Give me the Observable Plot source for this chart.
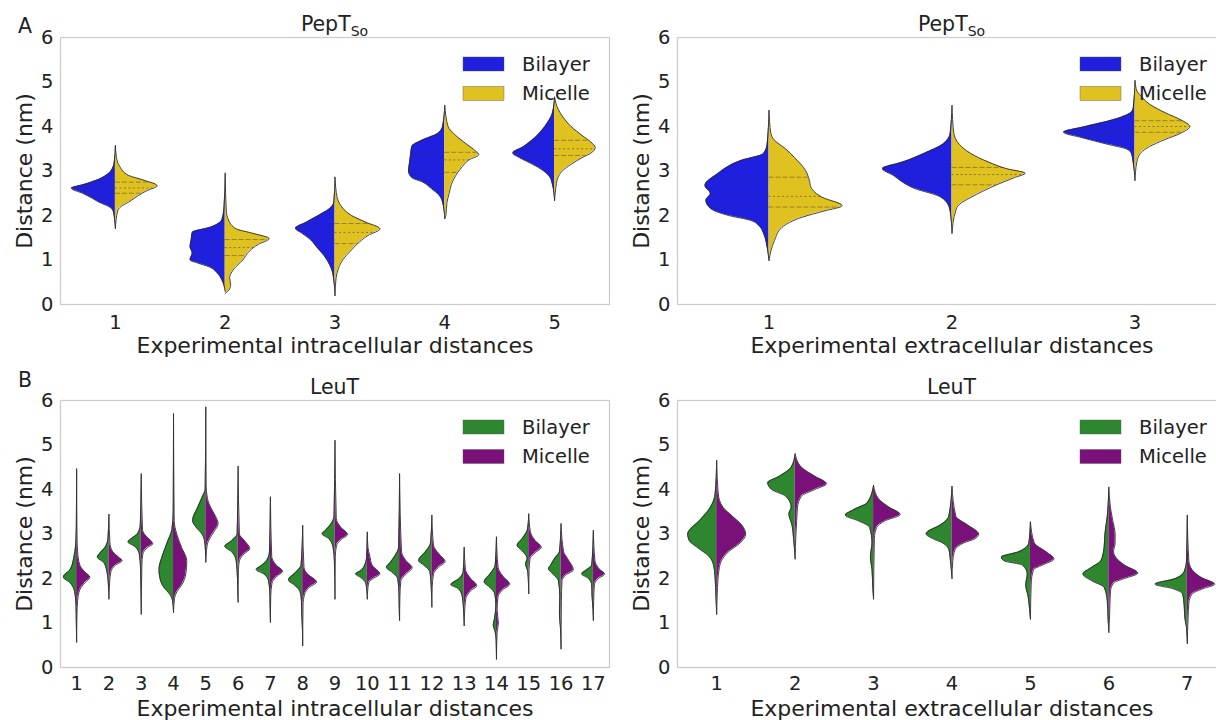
<!DOCTYPE html>
<html><head><meta charset="utf-8">
<script src="https://cdn.jsdelivr.net/npm/d3@7"></script>
<script src="https://cdn.jsdelivr.net/npm/@observablehq/plot@0.6"></script>
<style>
html,body{margin:0;padding:0;background:#fff;}
#fig{position:relative;width:1216px;height:720px;overflow:hidden;background:#fff;font-family:"DejaVu Sans",sans-serif;}
.panel{position:absolute;}
</style></head><body><div id="fig"></div>
<script>
// ---------- data (profiles: [distance nm, half-width in category units], top to bottom) ----------
const yTicks = [0, 1, 2, 3, 4, 5, 6];
const seriesNames = ["Bilayer", "Micelle"];

const pepIntraCats = [1, 2, 3, 4, 5];
const pepIntraBilayer = [
  [[3.57,0],[3.2,0.01],[3.0,0.04],[2.85,0.12],[2.7,0.28],[2.61,0.40],[2.5,0.30],[2.4,0.22],[2.3,0.15],[2.2,0.06],[2.1,0.02],[1.71,0]],
  [[2.95,0],[2.2,0.01],[1.9,0.03],[1.75,0.12],[1.62,0.30],[1.45,0.31],[1.3,0.32],[1.15,0.30],[1.0,0.32],[0.93,0.25],[0.85,0.15],[0.7,0.07],[0.55,0.03],[0.3,0]],
  [[2.86,0],[2.3,0.01],[2.15,0.05],[2.0,0.15],[1.85,0.26],[1.71,0.36],[1.6,0.30],[1.45,0.22],[1.3,0.17],[1.1,0.10],[0.9,0.05],[0.7,0.02],[0.2,0]],
  [[4.47,0],[4.0,0.02],[3.85,0.06],[3.7,0.2],[3.55,0.3],[3.4,0.31],[3.2,0.32],[3.0,0.33],[2.85,0.30],[2.75,0.2],[2.6,0.12],[2.45,0.05],[2.3,0.02],[1.93,0]],
  [[4.66,0],[4.3,0.02],[4.1,0.06],[3.9,0.12],[3.7,0.2],[3.55,0.28],[3.4,0.38],[3.3,0.32],[3.15,0.2],[3.0,0.1],[2.85,0.04],[2.7,0.02],[2.34,0]]
];
const pepIntraMicelle = [
  [[3.57,0],[3.3,0.01],[3.1,0.04],[2.9,0.12],[2.8,0.25],[2.67,0.38],[2.55,0.28],[2.4,0.18],[2.3,0.12],[2.2,0.05],[2.1,0.02],[1.71,0]],
  [[2.95,0],[2.1,0.01],[1.9,0.03],[1.7,0.1],[1.6,0.25],[1.48,0.40],[1.35,0.30],[1.2,0.22],[1.0,0.16],[0.8,0.08],[0.6,0.04],[0.45,0.05],[0.35,0.04],[0.25,0]],
  [[2.86,0],[2.4,0.02],[2.2,0.06],[2.0,0.15],[1.85,0.28],[1.7,0.41],[1.55,0.30],[1.4,0.22],[1.2,0.14],[1.0,0.07],[0.8,0.03],[0.6,0.01],[0.2,0]],
  [[4.47,0],[4.0,0.03],[3.8,0.1],[3.6,0.2],[3.45,0.28],[3.37,0.31],[3.25,0.22],[3.1,0.16],[2.9,0.1],[2.7,0.06],[2.5,0.04],[2.3,0.02],[2.0,0.01],[1.93,0]],
  [[4.66,0],[4.4,0.03],[4.2,0.08],[4.0,0.15],[3.8,0.25],[3.65,0.33],[3.53,0.37],[3.4,0.33],[3.3,0.25],[3.15,0.15],[3.0,0.07],[2.85,0.03],[2.6,0.01],[2.34,0]]
];
const pepIntraBilayerQuartiles = [[2.45,2.58,2.68],[1.1,1.28,1.45],[1.45,1.65,1.8],[2.95,3.15,3.4],[3.3,3.42,3.6]];
const pepIntraMicelleQuartiles = [[2.5,2.62,2.75],[1.1,1.28,1.46],[1.37,1.62,1.82],[2.97,3.25,3.42],[3.35,3.5,3.69]];

const pepExtraCats = [1, 2, 3];
const pepExtraBilayer = [
  [[4.36,0],[3.6,0.01],[3.39,0.03],[3.24,0.15],[2.94,0.28],[2.67,0.35],[2.49,0.32],[2.34,0.345],[2.16,0.32],[2.0,0.22],[1.89,0.1],[1.75,0.05],[1.6,0.03],[1.29,0.01],[0.99,0]],
  [[4.47,0],[3.84,0.01],[3.6,0.05],[3.4,0.15],[3.2,0.27],[3.05,0.38],[2.9,0.32],[2.75,0.27],[2.6,0.2],[2.45,0.08],[2.3,0.03],[2.1,0.01],[1.6,0]],
  [[5.03,0],[4.4,0.01],[4.29,0.03],[4.15,0.12],[4.0,0.27],[3.87,0.39],[3.75,0.29],[3.6,0.15],[3.5,0.05],[3.4,0.02],[3.2,0.01],[2.79,0]]
];
const pepExtraMicelle = [
  [[4.36,0],[3.85,0.01],[3.69,0.03],[3.5,0.09],[3.3,0.14],[3.01,0.2],[2.8,0.22],[2.63,0.23],[2.41,0.29],[2.22,0.40],[2.1,0.3],[1.96,0.18],[1.73,0.07],[1.44,0.03],[1.2,0.01],[0.99,0]],
  [[4.47,0],[3.85,0.01],[3.6,0.04],[3.4,0.1],[3.2,0.2],[3.05,0.3],[2.95,0.40],[2.85,0.34],[2.7,0.25],[2.55,0.17],[2.4,0.1],[2.25,0.04],[2.1,0.02],[1.6,0]],
  [[5.03,0],[4.8,0.01],[4.7,0.03],[4.5,0.08],[4.3,0.17],[4.15,0.25],[4.0,0.30],[3.85,0.25],[3.7,0.16],[3.55,0.08],[3.4,0.03],[3.2,0.01],[2.79,0]]
];
const pepExtraBilayerQuartiles = [[2.2,2.5,2.8],[2.8,3.0,3.15],[3.8,3.88,3.96]];
const pepExtraMicelleQuartiles = [[2.19,2.43,2.86],[2.69,2.92,3.08],[3.87,4.0,4.13]];

const leuIntraCats = [1,2,3,4,5,6,7,8,9,10,11,12,13,14,15,16,17];
const leuIntraBilayer = [
  [[4.46,0],[3.2,0.01],[2.9,0.02],[2.5,0.08],[2.2,0.2],[2.03,0.41],[1.9,0.2],[1.7,0.06],[1.4,0.02],[1.0,0.01],[0.57,0]],
  [[3.44,0],[2.9,0.03],[2.7,0.12],[2.55,0.3],[2.48,0.36],[2.35,0.15],[2.1,0.05],[1.9,0.02],[1.54,0]],
  [[4.35,0],[3.2,0.03],[3.0,0.12],[2.9,0.3],[2.82,0.41],[2.72,0.2],[2.55,0.06],[2.2,0.02],[1.8,0.01],[1.2,0]],
  [[5.7,0],[3.5,0.01],[3.1,0.05],[2.8,0.2],[2.5,0.35],[2.2,0.45],[2.0,0.42],[1.8,0.3],[1.65,0.12],[1.5,0.03],[1.24,0]],
  [[5.85,0],[4.0,0.02],[3.85,0.1],[3.6,0.25],[3.3,0.41],[3.15,0.3],[3.0,0.12],[2.85,0.04],[2.6,0.01],[2.37,0]],
  [[4.52,0],[3.0,0.03],[2.85,0.2],[2.72,0.41],[2.6,0.2],[2.4,0.06],[2.0,0.02],[1.7,0.01],[1.47,0]],
  [[3.83,0],[2.6,0.03],[2.4,0.12],[2.28,0.3],[2.2,0.44],[2.1,0.2],[1.95,0.06],[1.7,0.02],[1.4,0.01],[1.02,0]],
  [[3.19,0],[2.3,0.05],[2.15,0.2],[1.96,0.44],[1.85,0.25],[1.7,0.08],[1.5,0.04],[1.2,0.03],[0.9,0.01],[0.49,0]],
  [[5.1,0],[3.4,0.03],[3.2,0.15],[3.08,0.3],[3.0,0.4],[2.9,0.2],[2.7,0.06],[2.4,0.02],[1.54,0]],
  [[3.04,0],[2.5,0.02],[2.3,0.08],[2.18,0.2],[2.1,0.36],[2.02,0.2],[1.9,0.05],[1.7,0.01],[1.54,0]],
  [[4.35,0],[2.7,0.03],[2.5,0.15],[2.35,0.3],[2.25,0.41],[2.15,0.25],[2.0,0.06],[1.7,0.02],[1.3,0.01],[1.06,0]],
  [[3.42,0],[2.8,0.04],[2.6,0.2],[2.4,0.41],[2.3,0.25],[2.15,0.06],[1.8,0.02],[1.36,0]],
  [[2.7,0],[2.15,0.03],[2.0,0.15],[1.86,0.41],[1.78,0.2],[1.6,0.06],[1.3,0.02],[0.94,0]],
  [[2.93,0],[2.3,0.04],[2.1,0.2],[1.92,0.38],[1.8,0.2],[1.65,0.05],[1.4,0.02],[1.1,0.06],[0.95,0.1],[0.8,0.04],[0.6,0.01],[0.19,0]],
  [[3.45,0],[3.1,0.04],[2.9,0.2],[2.74,0.36],[2.62,0.2],[2.45,0.05],[2.33,0.1],[2.15,0.03],[1.9,0.01],[1.66,0]],
  [[3.23,0],[2.6,0.05],[2.45,0.2],[2.3,0.32],[2.22,0.39],[2.1,0.25],[1.95,0.08],[1.6,0.04],[1.2,0.05],[0.9,0.02],[0.42,0]],
  [[3.08,0],[2.3,0.05],[2.2,0.2],[2.1,0.36],[2.0,0.15],[1.85,0.05],[1.6,0.04],[1.3,0.01],[1.06,0]]
];
const leuIntraMicelle = [
  [[4.46,0],[3.0,0.01],[2.6,0.03],[2.3,0.1],[2.15,0.25],[2.03,0.41],[1.9,0.25],[1.75,0.1],[1.5,0.03],[1.2,0.01],[0.57,0]],
  [[3.44,0],[2.8,0.03],[2.6,0.12],[2.48,0.3],[2.4,0.41],[2.3,0.2],[2.15,0.06],[1.9,0.02],[1.54,0]],
  [[4.35,0],[3.1,0.04],[2.95,0.15],[2.85,0.3],[2.78,0.36],[2.7,0.2],[2.55,0.05],[2.3,0.02],[1.2,0]],
  [[5.7,0],[3.3,0.02],[3.0,0.1],[2.7,0.25],[2.4,0.41],[2.1,0.38],[1.85,0.25],[1.7,0.1],[1.55,0.03],[1.24,0]],
  [[5.85,0],[4.1,0.01],[3.8,0.05],[3.6,0.15],[3.4,0.3],[3.23,0.38],[3.05,0.25],[2.9,0.12],[2.75,0.04],[2.5,0.01],[2.37,0]],
  [[4.52,0],[3.0,0.04],[2.85,0.2],[2.67,0.36],[2.55,0.18],[2.4,0.04],[2.2,0.01],[1.47,0]],
  [[3.83,0],[2.5,0.04],[2.3,0.18],[2.16,0.38],[2.05,0.2],[1.9,0.05],[1.6,0.01],[1.02,0]],
  [[3.19,0],[2.25,0.04],[2.1,0.15],[1.92,0.43],[1.8,0.2],[1.65,0.06],[1.4,0.01],[0.49,0]],
  [[5.1,0],[3.35,0.04],[3.15,0.18],[2.99,0.39],[2.88,0.2],[2.75,0.05],[2.5,0.01],[1.54,0]],
  [[3.04,0],[2.7,0.02],[2.5,0.08],[2.3,0.15],[2.1,0.39],[2.0,0.18],[1.9,0.04],[1.7,0.01],[1.54,0]],
  [[4.35,0],[2.6,0.06],[2.4,0.2],[2.24,0.39],[2.1,0.2],[1.95,0.04],[1.6,0.01],[1.06,0]],
  [[3.42,0],[2.75,0.05],[2.55,0.22],[2.38,0.41],[2.25,0.2],[2.1,0.05],[1.8,0.01],[1.36,0]],
  [[2.7,0],[2.2,0.04],[2.0,0.2],[1.84,0.39],[1.72,0.2],[1.55,0.05],[1.2,0.01],[0.94,0]],
  [[2.93,0],[2.25,0.05],[2.05,0.2],[1.87,0.41],[1.75,0.2],[1.6,0.05],[1.3,0.02],[1.0,0.06],[0.8,0.02],[0.19,0]],
  [[3.45,0],[3.05,0.05],[2.85,0.2],[2.7,0.39],[2.58,0.2],[2.45,0.04],[2.2,0.01],[1.66,0]],
  [[3.23,0],[2.6,0.08],[2.45,0.2],[2.19,0.38],[2.08,0.15],[1.95,0.03],[1.5,0.01],[0.42,0]],
  [[3.08,0],[2.4,0.05],[2.2,0.2],[2.1,0.35],[2.0,0.15],[1.85,0.03],[1.5,0.01],[1.06,0]]
];

const leuExtraCats = [1,2,3,4,5,6,7];
const leuExtraBilayer = [
  [[4.65,0],[3.9,0.02],[3.6,0.08],[3.3,0.22],[3.1,0.34],[3.0,0.37],[2.85,0.35],[2.7,0.25],[2.5,0.1],[2.3,0.04],[2.0,0.02],[1.6,0.01],[1.2,0]],
  [[4.8,0],[4.5,0.05],[4.3,0.2],[4.15,0.35],[4.0,0.3],[3.85,0.12],[3.6,0.05],[3.45,0.08],[3.2,0.04],[2.9,0.02],[2.44,0]],
  [[4.09,0],[3.7,0.08],[3.55,0.25],[3.42,0.36],[3.3,0.2],[3.15,0.05],[2.8,0.02],[2.48,0.04],[2.2,0.02],[1.8,0.01],[1.54,0]],
  [[4.07,0],[3.4,0.04],[3.2,0.15],[3.05,0.31],[3.0,0.33],[2.9,0.25],[2.8,0.12],[2.65,0.04],[2.4,0.02],[2.0,0]],
  [[3.27,0],[2.8,0.02],[2.6,0.15],[2.48,0.37],[2.4,0.34],[2.3,0.1],[2.1,0.04],[1.85,0.06],[1.6,0.03],[1.3,0.01],[1.09,0]],
  [[4.05,0],[3.4,0.02],[3.0,0.05],[2.7,0.06],[2.4,0.1],[2.25,0.22],[2.1,0.33],[1.95,0.22],[1.8,0.06],[1.5,0.02],[1.1,0.01],[0.79,0]],
  [[3.42,0],[2.4,0.01],[2.15,0.04],[2.0,0.15],[1.87,0.41],[1.78,0.2],[1.65,0.06],[1.4,0.04],[1.1,0.03],[0.9,0.01],[0.54,0]]
];
const leuExtraMicelle = [
  [[4.65,0],[3.9,0.02],[3.6,0.08],[3.4,0.2],[3.2,0.32],[3.0,0.37],[2.8,0.3],[2.6,0.15],[2.4,0.06],[2.2,0.03],[1.8,0.01],[1.2,0]],
  [[4.8,0],[4.5,0.08],[4.3,0.25],[4.13,0.4],[4.0,0.25],[3.85,0.08],[3.6,0.03],[3.3,0.02],[3.0,0.01],[2.44,0]],
  [[4.09,0],[3.8,0.06],[3.6,0.2],[3.44,0.34],[3.3,0.15],[3.15,0.04],[2.9,0.01],[1.54,0]],
  [[4.07,0],[3.4,0.05],[3.2,0.2],[3.0,0.34],[2.9,0.3],[2.8,0.15],[2.65,0.04],[2.4,0.01],[2.0,0]],
  [[3.27,0],[2.8,0.05],[2.6,0.2],[2.44,0.3],[2.3,0.15],[2.2,0.04],[1.9,0.01],[1.09,0]],
  [[4.05,0],[3.6,0.02],[3.3,0.05],[3.0,0.08],[2.8,0.08],[2.6,0.06],[2.45,0.1],[2.3,0.2],[2.12,0.37],[2.0,0.2],[1.9,0.06],[1.7,0.02],[1.2,0.01],[0.79,0]],
  [[3.42,0],[2.4,0.02],[2.2,0.06],[2.02,0.18],[1.87,0.35],[1.77,0.2],[1.65,0.06],[1.45,0.02],[1.1,0.01],[0.54,0]]
];

const pepColors = ["#1f1fdf", "#dfc11f"];
const leuColors = ["#2e872e", "#7a107a"];

// ---------- drawing ----------
const FRAME_W = 549;
const FONT = "DejaVu Sans, sans-serif";
const fig = document.getElementById("fig");

function halfRows(profiles, cats, sign, side) {
  const rows = [];
  profiles.forEach((prof, i) => {
    const c = cats[i];
    prof.forEach(([v, w]) => rows.push({key: side + c, cat: c, v, xo: c + sign * w}));
  });
  return rows;
}
function widthAt(prof, v) {
  for (let i = 0; i < prof.length - 1; i++) {
    const [v0, w0] = prof[i], [v1, w1] = prof[i + 1];
    if (v <= v0 && v >= v1) { const t = (v0 - v) / (v0 - v1); return w0 + (w1 - w0) * t; }
  }
  return 0;
}
function quartRows(profiles, qs, cats, sign, side) {
  const rows = [];
  if (!qs) return rows;
  qs.forEach((q, i) => {
    const c = cats[i];
    q.forEach((v, j) => rows.push({v, side, x1: c, x2: c + sign * widthAt(profiles[i], v), med: j === 1}));
  });
  return rows;
}

function panel(o) {
  const {cats, bilayer, micelle, bq, mq, colors, title, sub, xlabel, letter, letterY, left, top, ml, mr, mt, mb, xPad} = o;
  const bRows = halfRows(bilayer, cats, -1, "B");
  const mRows = halfRows(micelle, cats, 1, "M");
  const qRows = quartRows(bilayer, bq, cats, -1, "B").concat(quartRows(micelle, mq, cats, 1, "M"));
  const width = ml + FRAME_W + mr;
  const chart = Plot.plot({
    width, height: 360,
    marginLeft: ml, marginRight: mr, marginTop: mt, marginBottom: mb,
    style: {fontFamily: FONT, color: "#222", background: "transparent"},
    x: {domain: [0.5, cats.length + 0.5]},
    y: {domain: [0, 6]},
    marks: [
      Plot.frame({stroke: "#cccccc", strokeWidth: 1.25}),
      Plot.areaX(bRows, {y: "v", x1: "cat", x2: "xo", z: "key", fill: colors[0], curve: "monotone-y"}),
      Plot.areaX(mRows, {y: "v", x1: "cat", x2: "xo", z: "key", fill: colors[1], curve: "monotone-y"}),
      Plot.ruleY(qRows.filter(d => !d.med), {y: "v", x1: "x1", x2: "x2", stroke: "#3a3a3a",
        strokeOpacity: d => d.side === "B" ? 0.3 : 0.5, strokeWidth: 0.9, strokeDasharray: "5,2"}),
      Plot.ruleY(qRows.filter(d => d.med), {y: "v", x1: "x1", x2: "x2", stroke: "#3a3a3a",
        strokeOpacity: d => d.side === "B" ? 0.3 : 0.6, strokeWidth: 0.9, strokeDasharray: "2,2.5"}),
      Plot.lineX(bRows, {x: "xo", y: "v", z: "key", curve: "monotone-y", stroke: "#2b2b2b", strokeWidth: 0.9}),
      Plot.lineX(mRows, {x: "xo", y: "v", z: "key", curve: "monotone-y", stroke: "#2b2b2b", strokeWidth: 0.9}),
      Plot.axisX({ticks: cats, tickSize: 0, tickPadding: xPad, fontSize: 19.5, tickFormat: d => String(d), label: null}),
      Plot.axisY({ticks: yTicks, tickSize: 0, tickPadding: 7, fontSize: 19.5, tickFormat: d => String(d), label: null}),
      Plot.text([xlabel], {text: d => d, frameAnchor: "bottom", dy: 41, fontSize: 22, lineAnchor: "middle", textAnchor: "middle", fill: "#222"}),
      Plot.text(["Distance (nm)"], {text: d => d, frameAnchor: "left", dx: -36, rotate: -90, fontSize: 22, lineAnchor: "middle", textAnchor: "middle", fill: "#222"})
    ]
  });
  const svg = d3.select(chart);
  const fr = ml + FRAME_W;
  seriesNames.forEach((name, i) => {
    svg.append("rect").attr("x", fr - 146).attr("y", mt + 20 + i * 29.5).attr("width", 41).attr("height", 14)
      .attr("fill", colors[i]).attr("stroke", "#555").attr("stroke-width", 0.4);
    svg.append("text").attr("x", fr - 87).attr("y", mt + 27 + i * 29.5).attr("dominant-baseline", "central")
      .attr("text-anchor", "start").attr("font-size", 19.5).attr("fill", "#222").attr("font-family", FONT).text(name);
  });
  const tt = svg.append("text").attr("x", ml + FRAME_W / 2).attr("y", mt - 6).attr("text-anchor", "middle")
    .attr("font-size", 20.5).attr("fill", "#222").attr("font-family", FONT);
  tt.append("tspan").text(title);
  if (sub) tt.append("tspan").attr("font-size", 14).attr("dy", 5).text(sub);
  if (letter) {
    svg.append("text").attr("x", 18).attr("y", letterY).attr("text-anchor", "start").attr("font-size", 20.5)
      .attr("fill", "#222").attr("font-family", FONT).text(letter);
  }
  chart.classList.add("panel");
  chart.style.left = left + "px";
  chart.style.top = top + "px";
  chart.style.overflow = "visible";
  fig.appendChild(chart);
}

panel({cats: pepIntraCats, bilayer: pepIntraBilayer, micelle: pepIntraMicelle, bq: pepIntraBilayerQuartiles, mq: pepIntraMicelleQuartiles,
  colors: pepColors, title: "PepT", sub: "So", xlabel: "Experimental intracellular distances", letter: "A", letterY: 33,
  left: 0, top: 0, ml: 60, mr: 7, mt: 37, mb: 56, xPad: 11});
panel({cats: pepExtraCats, bilayer: pepExtraBilayer, micelle: pepExtraMicelle, bq: pepExtraBilayerQuartiles, mq: pepExtraMicelleQuartiles,
  colors: pepColors, title: "PepT", sub: "So", xlabel: "Experimental extracellular distances",
  left: 616, top: 0, ml: 61, mr: 10, mt: 37, mb: 56, xPad: 11});
panel({cats: leuIntraCats, bilayer: leuIntraBilayer, micelle: leuIntraMicelle,
  colors: leuColors, title: "LeuT", xlabel: "Experimental intracellular distances", letter: "B", letterY: 27,
  left: 0, top: 360, ml: 60, mr: 7, mt: 40, mb: 53, xPad: 9});
panel({cats: leuExtraCats, bilayer: leuExtraBilayer, micelle: leuExtraMicelle,
  colors: leuColors, title: "LeuT", xlabel: "Experimental extracellular distances",
  left: 616, top: 360, ml: 61, mr: 10, mt: 40, mb: 53, xPad: 9});
</script>
</body></html>
